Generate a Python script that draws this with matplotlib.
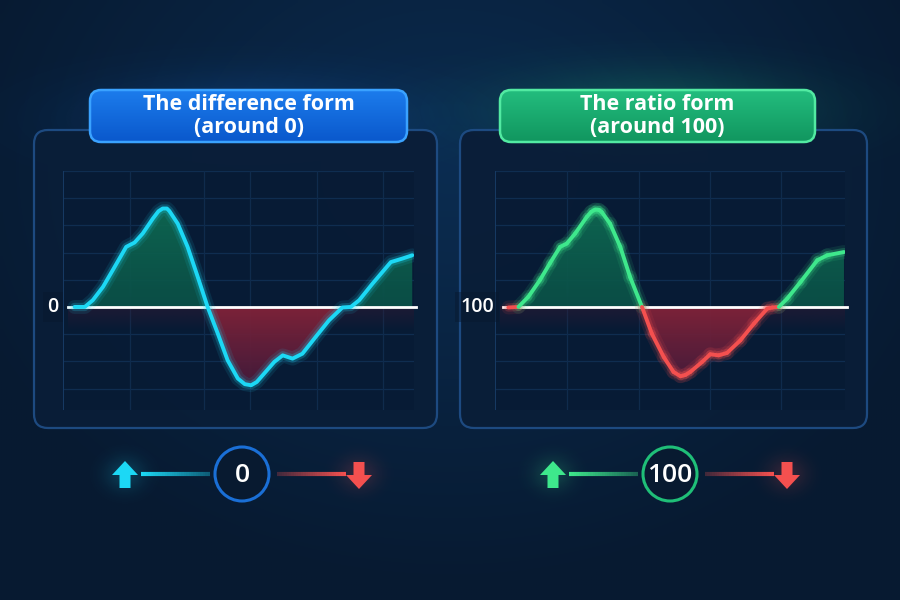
import numpy as np
import matplotlib
matplotlib.use("Agg")
import matplotlib.pyplot as plt
import matplotlib.transforms as mtransforms
from matplotlib.patches import FancyBboxPatch, Circle, Polygon
from matplotlib.collections import LineCollection
from matplotlib.colors import LinearSegmentedColormap, to_rgb

plt.rcParams['font.family'] = ['Open Sans', 'DejaVu Sans']

# values (x = position across the panel, 0..100)
diff_x = [3.3, 6.2, 8.5, 11.4, 14.7, 18.0, 20.4, 22.7, 25.6, 27.2, 28.4, 29.6, 30.3, 32.7,
          35.5, 38.4, 41.2, 44.1, 46.9, 49.8, 51.8, 53.6, 55.2, 56.9, 60.2, 62.6, 65.4,
          68.2, 72.0, 75.8, 79.6, 82.0, 84.4, 88.2, 93.4, 96.7, 99.5]
diff_y = [0.0, 0.0, 0.25, 0.74, 1.47, 2.21, 2.37, 2.70, 3.25, 3.52, 3.62, 3.62, 3.53, 3.06,
          2.21, 1.10, 0.0, -0.98, -1.96, -2.63, -2.84, -2.88, -2.76, -2.51, -2.02, -1.78, -1.90,
          -1.72, -1.10, -0.49, -0.02, 0.0, 0.25, 0.86, 1.65, 1.78, 1.90]

ratio_x = [3.8, 6.7, 9.5, 12.9, 15.7, 18.6, 20.5, 22.9, 26.2, 27.5, 28.6, 29.7, 30.5, 32.9,
           35.8, 38.6, 42.0, 44.8, 48.2, 51.0, 53.0, 54.4, 55.8, 59.2, 61.5, 63.9,
           66.3, 70.1, 74.0, 77.8, 79.2, 81.1, 83.5, 87.3, 92.1, 94.9, 99.7]
ratio_y = [99.98, 100.0, 100.37, 101.00, 101.61, 102.21, 102.33, 102.70, 103.31, 103.50,
           103.58, 103.57, 103.49, 103.06, 102.21, 101.10, 100.0, 99.02, 98.16, 97.61,
           97.45, 97.50, 97.61, 97.98, 98.26, 98.22, 98.31, 98.77, 99.39, 99.94, 99.98,
           100.0, 100.31, 100.92, 101.72, 101.90, 102.02]

titles = ["The difference form\n(around 0)", "The ratio form\n(around 100)"]
baselines = [0, 100]
base_labels = ["0", "100"]
diff_grid_x = [0, 19.1, 40.2, 53.3, 72.4, 91.2]
ratio_grid_x = [0, 20.6, 41.0, 61.3, 81.7]

W, H = 900, 600
CYAN = '#1cd8f5'
GREEN = '#3ee88c'
RED = '#f4504f'

fig = plt.figure(figsize=(9, 6), dpi=100)
bg = fig.add_axes([0, 0, 1, 1])
bg.set_xlim(0, W)
bg.set_ylim(H, 0)
bg.axis('off')

# background radial gradient
gx, gy = np.meshgrid(np.linspace(0, W, 180), np.linspace(0, H, 120))
r = np.sqrt(((gx - 450) / 520) ** 2 + ((gy - 170) / 420) ** 2)
r = np.clip(r, 0, 1)
c_in = np.array(to_rgb('#0b2c50'))
c_out = np.array(to_rgb('#071a31'))
img = c_in[None, None, :] * (1 - r[..., None]) + c_out[None, None, :] * r[..., None]
bg.imshow(img, extent=[0, W, H, 0], aspect='auto', interpolation='bilinear', zorder=0)


def glow(ax, cx, cy, sx, sy, color, amax):
    xx, yy = np.meshgrid(np.linspace(cx - 3 * sx, cx + 3 * sx, 120),
                         np.linspace(cy - 3 * sy, cy + 3 * sy, 80))
    a = amax * np.exp(-(((xx - cx) / sx) ** 2 + ((yy - cy) / sy) ** 2) / 2)
    rgba = np.zeros(a.shape + (4,))
    rgba[..., :3] = to_rgb(color)
    rgba[..., 3] = a
    ax.imshow(rgba, extent=[cx - 3 * sx, cx + 3 * sx, cy + 3 * sy, cy - 3 * sy],
              aspect='auto', interpolation='bilinear', zorder=1)


glow(bg, 248, 118, 110, 30, '#1a7ae8', 0.22)
glow(bg, 658, 110, 110, 30, '#1fc47f', 0.25)

# panels
panels = [(34, 130, 437, 428), (460, 130, 867, 428)]
for (x0, y0, x1, y1) in panels:
    bg.add_patch(FancyBboxPatch((x0, y0), x1 - x0, y1 - y0,
                                boxstyle='round,pad=0,rounding_size=14',
                                fc='#0a1e38', ec='#1f4d85', lw=1.6, alpha=0.95, zorder=2))

# title badges
badges = [(90, 90, 407, 142, '#1c7cec', '#0a58cc', '#3aa2ff'),
          (500, 90, 815, 142, '#23bd7e', '#11965f', '#52eaa2')]
for (x0, y0, x1, y1, ctop, cbot, cedge), title in zip(badges, titles):
    patch = FancyBboxPatch((x0, y0), x1 - x0, y1 - y0,
                           boxstyle='round,pad=0,rounding_size=11',
                           fc='none', ec=cedge, lw=1.8, zorder=6)
    bg.add_patch(patch)
    cm = LinearSegmentedColormap.from_list('b', [ctop, cbot])
    grad = np.linspace(0, 1, 64)[:, None]
    im = bg.imshow(grad, cmap=cm, extent=[x0, x1, y1, y0], aspect='auto', zorder=5)
    im.set_clip_path(patch)
    bg.text((x0 + x1) / 2, (y0 + y1) / 2, title, ha='center', va='center',
            color='white', fontsize=15.5, fontweight='bold', linespacing=1.15, zorder=7)


def chart_axes(x0, y0, x1, y1):
    a = fig.add_axes([x0 / W, 1 - y1 / H, (x1 - x0) / W, (y1 - y0) / H])
    a.set_facecolor('#071a33')
    a.patch.set_alpha(0.6)
    for s in a.spines.values():
        s.set_visible(False)
    a.set_xticks([])
    a.set_yticks([])
    return a


def grad_fill(ax, x, y, base, above, c_near, c_far, ylim):
    x = np.asarray(x)
    y = np.asarray(y)
    where = y >= base if above else y <= base
    coll = ax.fill_between(x, y, base, where=where, interpolate=True,
                           facecolor='none', edgecolor='none')
    cm = LinearSegmentedColormap.from_list('f', [c_near, c_far])
    if above:
        grad = np.linspace(0, 1, 64)[:, None]
        ext = [0, 100, base, ylim[1]]
    else:
        grad = np.linspace(1, 0, 64)[:, None]
        ext = [0, 100, ylim[0], base]
    for path in coll.get_paths():
        im = ax.imshow(grad, cmap=cm, extent=ext, origin='lower', aspect='auto',
                       interpolation='bilinear', zorder=2, alpha=0.95)
        im.set_clip_path(path, ax.transData)


def base_band(ax, base, depth):
    rgba = np.zeros((32, 1, 4))
    rgba[..., :3] = to_rgb('#3a1a34')
    rgba[:, 0, 3] = np.linspace(0.0, 0.45, 32)
    ax.imshow(rgba, extent=[1.5, 100, base - depth, base], origin='lower',
              aspect='auto', interpolation='bilinear', zorder=1.5)


setups = [
    (63, 171, 414, 410, diff_x, diff_y, 0, (-3.79, 5.0), diff_grid_x, (68 - 63) / 351),
    (495, 171, 845, 410, ratio_x, ratio_y, 100, (96.21, 105.0), ratio_grid_x, (503 - 495) / 350),
]
axes = []
for i, (x0, y0, x1, y1, xs, ys, base, ylim, gxs, zstart) in enumerate(setups):
    ax = chart_axes(x0, y0, x1, y1)
    axes.append(ax)
    for k in range(-3, 6):
        if k != 0:
            ax.axhline(base + k, color='#0f2d50', lw=0.9, zorder=1)
    for xv in gxs:
        ax.axvline(xv, color='#0f2b4c' if xv > 0 else '#173a64', lw=0.9 if xv > 0 else 1.4, zorder=1)
    base_band(ax, base, 0.9)
    grad_fill(ax, xs, ys, base, True, '#0b5047', '#107055', ylim)
    grad_fill(ax, xs, ys, base, False, '#822339', '#33193c', ylim)
    ax.axhline(base, xmin=zstart, xmax=1.005, color='white', lw=2, zorder=3, clip_on=False)

    trans = mtransforms.blended_transform_factory(ax.transAxes, ax.transData)
    lx = (53 - 63) / 351 if i == 0 else (477 - 495) / 350
    ax.text(lx, base, base_labels[i], transform=trans, ha='center', va='center',
            color='white', fontsize=14, fontweight='semibold', zorder=5, clip_on=False,
            bbox=dict(boxstyle='square,pad=0.25', fc='#08182e', ec='none', alpha=0.45))

    if i == 0:
        for lw, al in [(10, 0.10), (6, 0.22)]:
            ax.plot(xs, ys, color=CYAN, lw=lw, alpha=al, solid_capstyle='round',
                    solid_joinstyle='round', zorder=4)
        ax.plot(xs, ys, color=CYAN, lw=2.8, solid_capstyle='round',
                solid_joinstyle='round', zorder=4.5)
    else:
        pts = np.column_stack([xs, ys])
        segs = np.stack([pts[:-1], pts[1:]], axis=1)
        mids = (pts[:-1, 1] + pts[1:, 1]) / 2
        cols = [GREEN if m >= base else RED for m in mids]
        for lw, al in [(10, 0.10), (6, 0.22), (2.8, 1.0)]:
            lc = LineCollection(segs, colors=cols, linewidths=lw, alpha=al,
                                capstyle='round', joinstyle='round', zorder=4.5)
            ax.add_collection(lc)
    ax.set_xlim(0, 100)
    ax.set_ylim(*ylim)


# bottom indicators
def up_arrow(cx, color):
    pts = [(cx - 13, 475), (cx, 461), (cx + 13, 475), (cx + 5.5, 475),
           (cx + 5.5, 488), (cx - 5.5, 488), (cx - 5.5, 475)]
    bg.add_patch(Polygon(pts, closed=True, fc=color, ec='none', zorder=6))


def down_arrow(cx, color):
    pts = [(cx - 5.5, 462), (cx + 5.5, 462), (cx + 5.5, 475), (cx + 13, 475),
           (cx, 489), (cx - 13, 475), (cx - 5.5, 475)]
    bg.add_patch(Polygon(pts, closed=True, fc=color, ec='none', zorder=6))


def fade_line(xa, xb, y, color, a0, a1):
    xsg = np.linspace(xa, xb, 30)
    segs = [[(xsg[j], y), (xsg[j + 1], y)] for j in range(len(xsg) - 1)]
    rgb = to_rgb(color)
    alphas = np.linspace(a0, a1, len(segs))
    cols = [(rgb[0], rgb[1], rgb[2], a) for a in alphas]
    bg.add_collection(LineCollection(segs, colors=cols, linewidths=3, zorder=5))


indicators = [(242, CYAN, '#1a6fd6', base_labels[0]),
              (670, GREEN, '#1fbf78', base_labels[1])]
cy = 474
for cx, ucol, ring, lab in indicators:
    glow(bg, cx + 117, cy, 14, 12, RED, 0.18)
    glow(bg, cx - 117, cy, 14, 12, ucol, 0.18)
    up_arrow(cx - 117, ucol)
    down_arrow(cx + 117, RED)
    fade_line(cx - 101, cx - 32, cy, ucol, 1.0, 0.35)
    fade_line(cx + 35, cx + 104, cy, RED, 0.25, 1.0)
    bg.add_patch(Circle((cx, cy), 27, fc='#081a30', ec=ring, lw=2.2, zorder=6))
    bg.text(cx, cy + 1, lab, ha='center', va='center', color='white',
            fontsize=19, fontweight='semibold', zorder=7)

fig.savefig('out.png', dpi=100)
